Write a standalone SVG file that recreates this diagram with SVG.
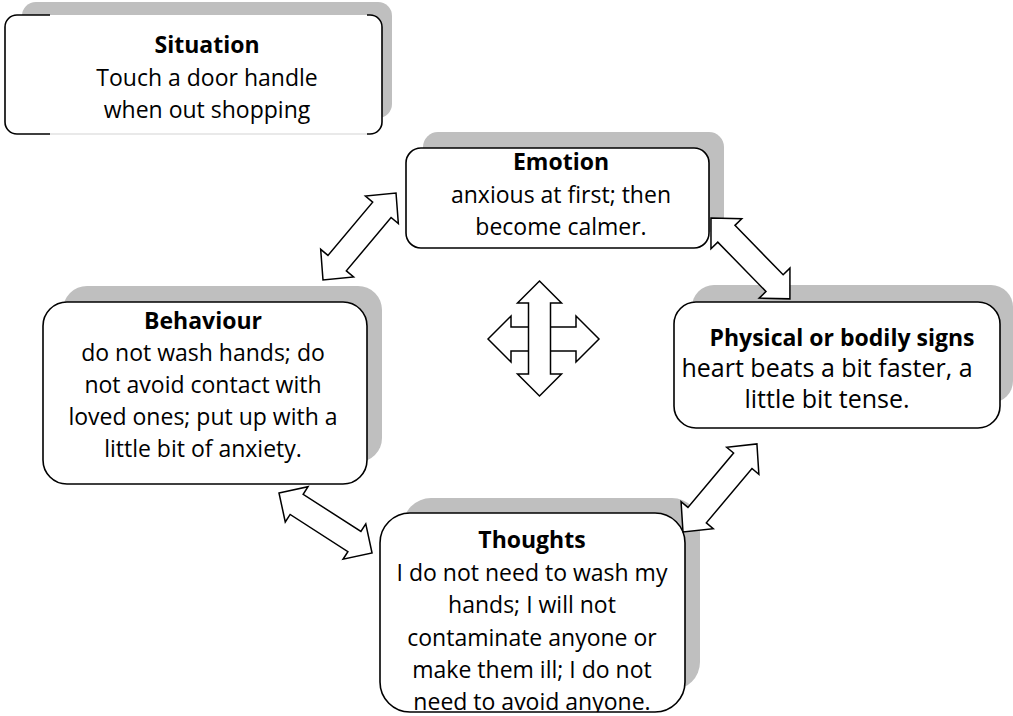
<svg xmlns="http://www.w3.org/2000/svg" width="1013" height="716" viewBox="0 0 1013 716">
<style>
.sh{fill:#bfbfbf}
.bx{fill:#fff;stroke:#000;stroke-width:1.6}
.bw{fill:#fff}
.br{fill:none;stroke:#000;stroke-width:1.6}
.t{font-family:"Open Sans","Noto Sans",sans-serif;font-size:23px;fill:#000;text-anchor:middle}
.b{font-weight:bold}
.ar{fill:#fff;stroke:#000;stroke-width:1.5;stroke-linejoin:miter}
</style>
<defs>
<clipPath id="ct"><rect x="380" y="513" width="305" height="199" rx="30"/></clipPath>
</defs>
<rect width="1013" height="716" fill="#fff"/>

<g id="situation">
<rect class="sh" x="22" y="2" width="370" height="116" rx="14"/>
<rect class="bw" x="5" y="15" width="377" height="119" rx="12"/>
<path d="M50,134 H367" fill="none" stroke="#d4d4d4" stroke-width="1.2"/>
<path class="br" d="M50,15 H17 A12,12 0 0 0 5,27 V122 A12,12 0 0 0 17,134 H50"/>
<path class="br" d="M367,15 H370 A12,12 0 0 1 382,27 V122 A12,12 0 0 1 370,134 H367"/>
<text class="t b" x="207" y="53">Situation</text>
<text class="t" x="207" y="86">Touch a door handle</text>
<text class="t" x="207" y="118">when out shopping</text>
</g>

<g id="emotion">
<rect class="sh" x="423" y="132" width="301" height="100" rx="15"/>
<rect class="bx" x="406" y="148" width="303" height="100" rx="15"/>
<text class="t b" x="561" y="170">Emotion</text>
<text class="t" x="561" y="203">anxious at first; then</text>
<text class="t" x="561" y="235">become calmer.</text>
</g>

<g id="physical">
<rect class="sh" x="692" y="285" width="321" height="118" rx="22"/>
<rect class="bx" x="674" y="302" width="326" height="126" rx="22"/>
<text class="t b" x="842" y="346">Physical or bodily signs</text>
<text class="t" x="827" y="377" style="font-size:25px">heart beats a bit faster, a</text>
<text class="t" x="827" y="408" style="font-size:25px">little bit tense.</text>
</g>

<g id="behaviour">
<rect class="sh" x="63" y="286" width="319" height="176" rx="24"/>
<rect class="bx" x="43" y="302" width="324" height="182" rx="24"/>
<text class="t b" x="203" y="329">Behaviour</text>
<text class="t" x="203" y="361">do not wash hands; do</text>
<text class="t" x="203" y="393">not avoid contact with</text>
<text class="t" x="203" y="425">loved ones; put up with a</text>
<text class="t" x="203" y="457">little bit of anxiety.</text>
</g>

<g id="thoughts">
<rect class="sh" x="403" y="498" width="297" height="192" rx="28"/>
<rect class="bw" x="380" y="513" width="305" height="199" rx="30"/>
<g clip-path="url(#ct)">
<text class="t b" x="532" y="548">Thoughts</text>
<text class="t" x="532" y="581">I do not need to wash my</text>
<text class="t" x="532" y="613">hands; I will not</text>
<text class="t" x="532" y="646">contaminate anyone or</text>
<text class="t" x="532" y="678">make them ill; I do not</text>
<text class="t" x="532" y="710">need to avoid anyone.</text>
</g>
<rect class="br" x="380" y="513" width="305" height="199" rx="30"/>
</g>

<g id="connectors">
<path class="ar" transform="translate(323,280) rotate(-50)" d="M0,0 L22,-21.5 L22,-12 L91.6,-12 L91.6,-21.5 L113.6,0 L91.6,21.5 L91.6,12 L22,12 L22,21.5 Z"/>
<path class="ar" transform="translate(711,218) rotate(45.7)" d="M0,0 L22,-21.5 L22,-12 L91,-12 L91,-21.5 L113,0 L91,21.5 L91,12 L22,12 L22,21.5 Z"/>
<path class="ar" transform="translate(683,532) rotate(-50)" d="M0,0 L22,-21 L22,-12 L93,-12 L93,-21 L115,0 L93,21 L93,12 L22,12 L22,21 Z"/>
<path class="ar" transform="translate(279,493) rotate(32.8)" d="M0,0 L21,-21 L21,-12 L89.7,-12 L89.7,-21 L110.7,0 L89.7,21 L89.7,12 L21,12 L21,21 Z"/>
<g id="cross">
<path class="ar" d="M488,339 L511,316 L511,327 L576,327 L576,316 L599,339 L576,362 L576,351 L511,351 L511,362 Z"/>
<path class="ar" d="M539.5,281 L561.5,303 L550.5,303 L550.5,374 L561.5,374 L539.5,396 L517.5,374 L528.5,374 L528.5,303 L517.5,303 Z"/>
</g>
</g>
</svg>
